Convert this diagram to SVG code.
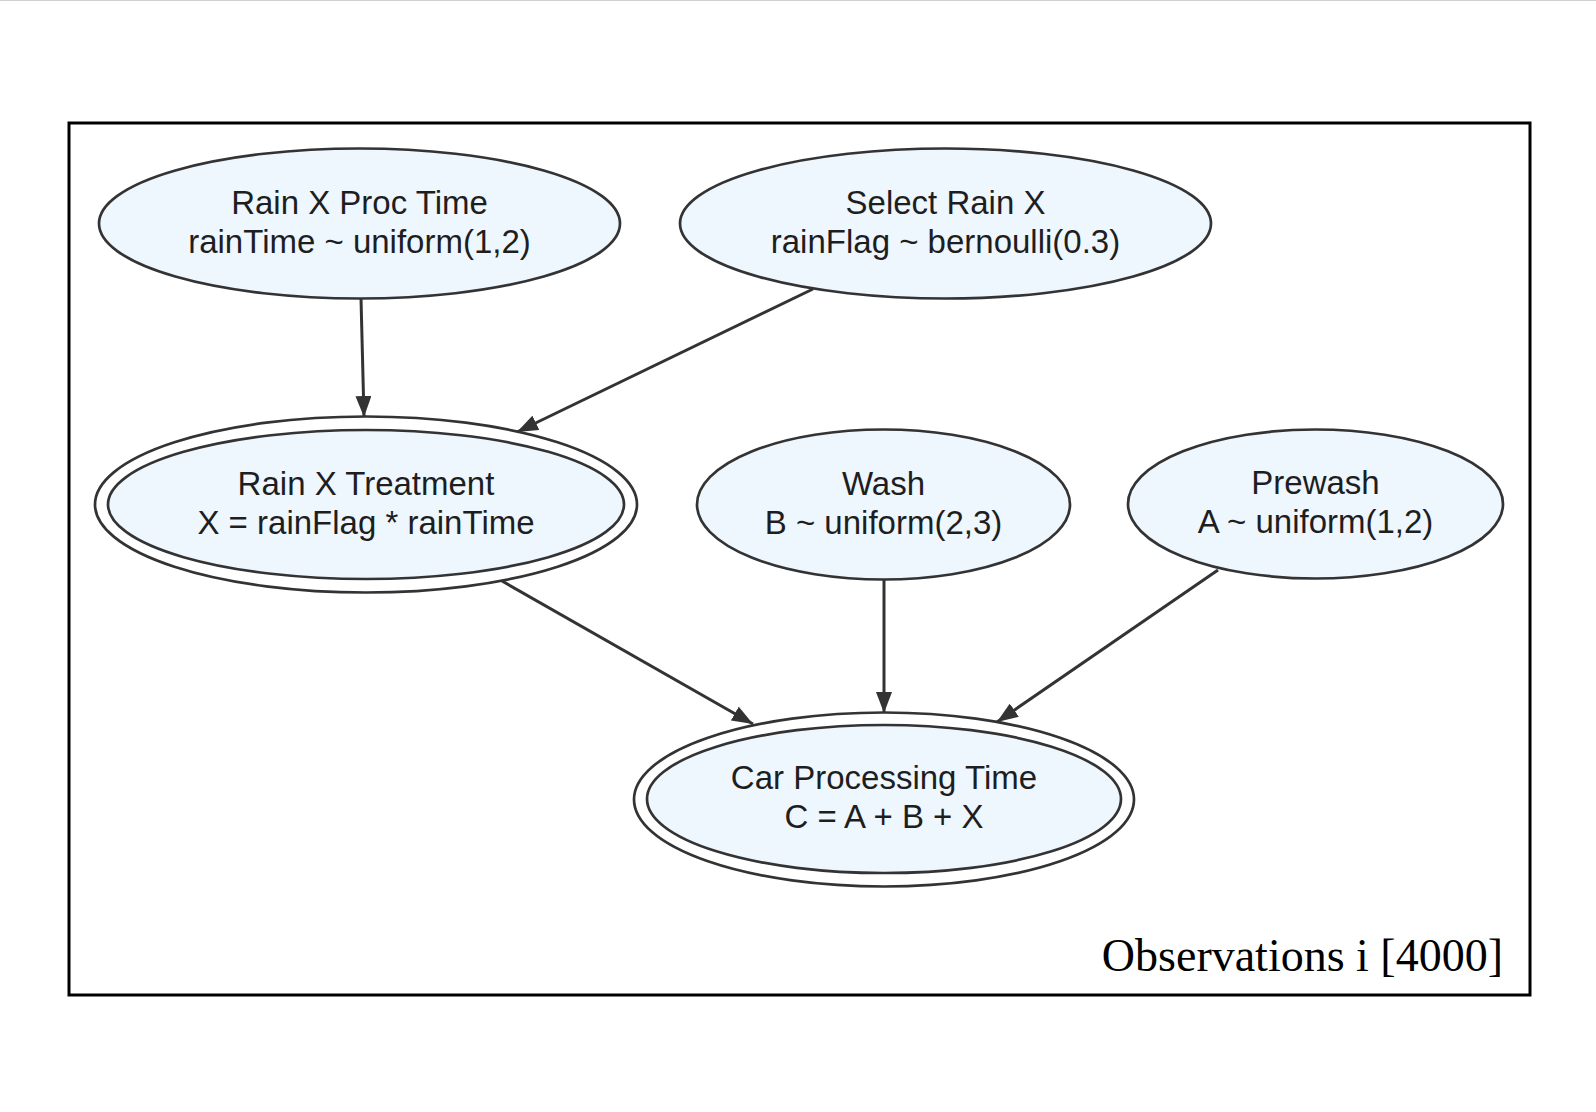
<svg xmlns="http://www.w3.org/2000/svg" width="1596" height="1112" viewBox="0 0 1596 1112">
  <defs>
    <style>
      .node { fill: #eef6fe; stroke: #333333; stroke-width: 2.7; }
      .ring { fill: none; stroke: #333333; stroke-width: 2.7; }
      .label { font-family: "Liberation Sans", Arial, sans-serif; font-size: 33px; fill: #1e1e1e; text-anchor: middle; }
      .edge { fill: none; stroke: #333333; stroke-width: 3; }
      .plate { fill: none; stroke: #000000; stroke-width: 3; }
      .plate-label { font-family: "Liberation Serif", "Times New Roman", serif; font-size: 46px; fill: #000000; text-anchor: end; }
    </style>
    <marker id="arrow" markerUnits="userSpaceOnUse" markerWidth="22" markerHeight="16" refX="21" refY="8" orient="auto">
      <path d="M0,0 L21,8 L0,16 z" fill="#333333"/>
    </marker>
  </defs>
  <rect x="0" y="0" width="1596" height="1112" fill="#ffffff"/>
  <line x1="0" y1="0.5" x2="1596" y2="0.5" stroke="#d0d0d0" stroke-width="1"/>

  <g id="plate">
    <rect class="plate" x="69" y="123" width="1461" height="872"/>
    <text class="plate-label" x="1503" y="971">Observations i [4000]</text>
  </g>

  <g id="connectors">
    <line class="edge" x1="361" y1="298" x2="364" y2="417" marker-end="url(#arrow)"/>
    <line class="edge" x1="813" y1="289" x2="517" y2="432" marker-end="url(#arrow)"/>
    <line class="edge" x1="502" y1="581" x2="753" y2="724" marker-end="url(#arrow)"/>
    <line class="edge" x1="884" y1="580" x2="884" y2="713" marker-end="url(#arrow)"/>
    <line class="edge" x1="1218" y1="570" x2="997" y2="722" marker-end="url(#arrow)"/>
  </g>

  <g id="rain-x-proc-time">
    <ellipse class="node" cx="359.5" cy="223.5" rx="260.5" ry="75"/>
    <text class="label" x="359.5" y="213.5">Rain X Proc Time</text>
    <text class="label" x="359.5" y="252.5">rainTime ~ uniform(1,2)</text>
  </g>

  <g id="select-rain-x">
    <ellipse class="node" cx="945.5" cy="223.5" rx="265.5" ry="75"/>
    <text class="label" x="945.5" y="213.5">Select Rain X</text>
    <text class="label" x="945.5" y="252.5">rainFlag ~ bernoulli(0.3)</text>
  </g>

  <g id="rain-x-treatment">
    <ellipse class="ring" cx="366" cy="504.5" rx="271" ry="88"/>
    <ellipse class="node" cx="366" cy="504.5" rx="258" ry="74.5"/>
    <text class="label" x="366" y="494.5">Rain X Treatment</text>
    <text class="label" x="366" y="533.5">X = rainFlag * rainTime</text>
  </g>

  <g id="wash">
    <ellipse class="node" cx="883.5" cy="504.5" rx="186.5" ry="75"/>
    <text class="label" x="883.5" y="494.5">Wash</text>
    <text class="label" x="883.5" y="533.5">B ~ uniform(2,3)</text>
  </g>

  <g id="prewash">
    <ellipse class="node" cx="1315.5" cy="504" rx="187.5" ry="74.5"/>
    <text class="label" x="1315.5" y="494">Prewash</text>
    <text class="label" x="1315.5" y="533">A ~ uniform(1,2)</text>
  </g>

  <g id="car-processing-time">
    <ellipse class="ring" cx="884" cy="799.5" rx="250" ry="87"/>
    <ellipse class="node" cx="884" cy="799" rx="237" ry="74"/>
    <text class="label" x="884" y="789">Car Processing Time</text>
    <text class="label" x="884" y="828">C = A + B + X</text>
  </g>
</svg>
